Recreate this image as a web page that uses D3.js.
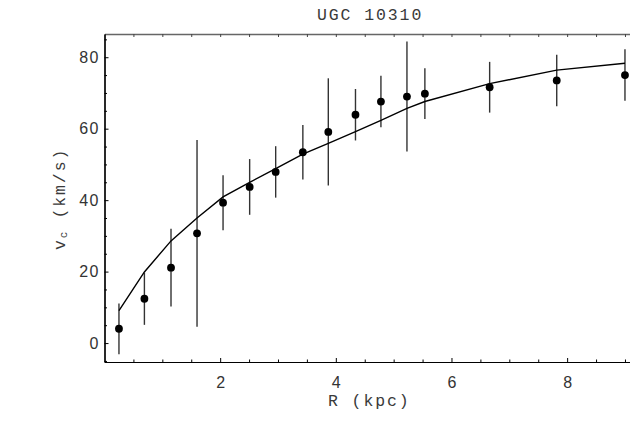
<!DOCTYPE html>
<html><head><meta charset="utf-8">
<script src="https://cdn.jsdelivr.net/npm/d3@7"></script>
<style>
html,body{margin:0;padding:0;background:#fff;overflow:hidden}
svg{display:block}
.tick text{font-family:"Liberation Sans",Arial,sans-serif;font-size:16px;letter-spacing:1.5px;fill:#333}
.mono{font-family:"Courier New","Liberation Mono",monospace;font-size:16.5px;letter-spacing:1.9px;fill:#3a3a3a}
</style></head>
<body>
<svg id="chart" width="630" height="421"></svg>
<script>
// Data
const title = "UGC 10310";
const R      = [0.25, 0.69, 1.15, 1.60, 2.05, 2.51, 2.96, 3.43, 3.87, 4.34, 4.78, 5.23, 5.54, 6.66, 7.82, 9.00];
const vObs   = [4.0, 12.4, 21.1, 30.7, 39.3, 43.7, 47.9, 53.4, 59.1, 63.9, 67.6, 69.0, 69.8, 71.6, 73.5, 75.0];
const vErr   = [7.1, 7.3, 10.9, 26.1, 7.7, 7.8, 7.2, 7.6, 15.0, 7.2, 7.2, 15.4, 7.1, 7.1, 7.2, 7.2];
const vModel = [9.1, 19.9, 28.6, 35.0, 40.9, 45.0, 48.8, 52.9, 55.9, 59.2, 62.3, 65.7, 67.6, 72.6, 76.4, 78.3];
const xMajor = [2, 4, 6, 8];
const xMinor = [0.5, 1, 1.5, 2.5, 3, 3.5, 4.5, 5, 5.5, 6.5, 7, 7.5, 8.5, 9];
const yMajor = [0, 20, 40, 60, 80];
const yMinor = [-5, 5, 10, 15, 25, 30, 35, 45, 50, 55, 65, 70, 75, 85];

const svg = d3.select("#chart");
const x = d3.scaleLinear().domain([0, 9.17]).range([104.5, 634.8]);
const y = d3.scaleLinear().domain([-5.3, 86.5]).range([362, 34]);

// top frame
const topG = svg.append("g").attr("transform", `translate(0,${y(86.5)})`);
topG.call(d3.axisTop(x).tickValues(xMajor.concat(xMinor)).tickSizeInner(-3).tickSizeOuter(0).tickFormat(""));
topG.select(".domain").attr("stroke", "#666").attr("stroke-width", 1.3);
topG.selectAll(".tick line").attr("stroke", "#444");

// bottom axis
const bMin = svg.append("g").attr("transform", `translate(0,${y(-5.3)})`);
bMin.call(d3.axisBottom(x).tickValues(xMinor).tickSizeInner(-2.5).tickSizeOuter(0).tickFormat(""));
const bMaj = svg.append("g").attr("transform", `translate(0,${y(-5.3)})`);
bMaj.call(d3.axisBottom(x).tickValues(xMajor).tickSizeInner(-4).tickSizeOuter(0).tickPadding(15).tickFormat(d3.format("d")));
bMaj.selectAll(".tick text").attr("dx", "0.75px");
[bMin, bMaj].forEach(g => { g.select(".domain").attr("stroke", "#000").attr("stroke-width", 1.2); g.selectAll(".tick line").attr("stroke", "#000"); });

// left axis
const lMin = svg.append("g").attr("transform", `translate(${x(0)},0)`);
lMin.call(d3.axisLeft(y).tickValues(yMinor).tickSizeInner(-2.5).tickSizeOuter(0).tickFormat(""));
const lMaj = svg.append("g").attr("transform", `translate(${x(0)},0)`);
lMaj.call(d3.axisLeft(y).tickValues(yMajor).tickSizeInner(-4).tickSizeOuter(0).tickPadding(4).tickFormat(d3.format("d")));
lMaj.selectAll(".tick text").attr("x", -4.5);
[lMin, lMaj].forEach(g => { g.select(".domain").attr("stroke", "#000").attr("stroke-width", 1.2); g.selectAll(".tick line").attr("stroke", "#000"); });

// error bars
svg.append("g").selectAll("line").data(R).join("line")
  .attr("x1", (d) => x(d)).attr("x2", (d) => x(d))
  .attr("y1", (d, i) => y(vObs[i] - vErr[i]))
  .attr("y2", (d, i) => y(vObs[i] + vErr[i]))
  .attr("stroke", "#333").attr("stroke-width", 1.4);

// model curve
svg.append("path")
  .datum(R.map((r, i) => [r, vModel[i]]))
  .attr("fill", "none").attr("stroke", "#000").attr("stroke-width", 1.4)
  .attr("d", d3.line().x(d => x(d[0])).y(d => y(d[1])));

// points
svg.append("g").selectAll("circle").data(R).join("circle")
  .attr("cx", d => x(d)).attr("cy", (d, i) => y(vObs[i]))
  .attr("r", 3.9).attr("fill", "#000");

// title
svg.append("text").attr("class", "mono").attr("x", 317).attr("y", 19.5).text(title);

// x label
svg.append("text").attr("class", "mono").attr("x", 328).attr("y", 406).text("R (kpc)");

// y label
const yl = svg.append("text").attr("class", "mono")
  .attr("transform", "translate(65,250) rotate(-90)");
yl.append("tspan").text("v");
yl.append("tspan").attr("dy", 2).style("font-size", "11px").style("letter-spacing", "1px").text("c");
yl.append("tspan").attr("dy", -2).attr("dx", 12).text("(km/s)");
</script>
</body></html>
